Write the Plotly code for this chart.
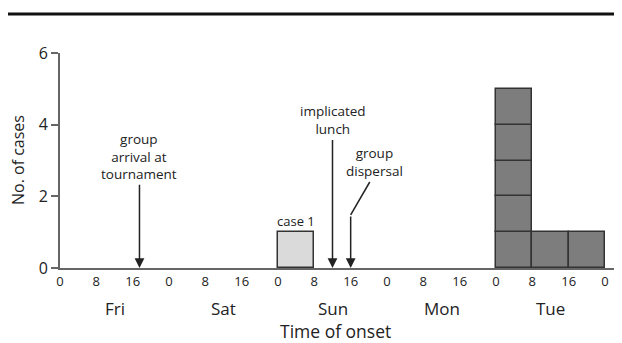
import plotly.graph_objects as go

# Data: cases per 8-hour bin, Fri 00:00 to Wed 00:00 (hours since Fri 00:00)
bin_starts = [0, 8, 16, 24, 32, 40, 48, 56, 64, 72, 80, 88, 96, 104, 112]
case_counts = [0, 0, 0, 0, 0, 0, 1, 0, 0, 0, 0, 0, 5, 1, 1]
case1_bin = 48
tick_hours = list(range(0, 121, 8))
tick_labels = ["0", "8", "16"] * 5 + ["0"]
days = ["Fri", "Sat", "Sun", "Mon", "Tue"]
events = [
    {"hour": 17.5, "text": "group<br>arrival at<br>tournament"},
    {"hour": 60, "text": "implicated<br>lunch"},
    {"hour": 64, "text": "group<br>dispersal"},
]

FONT = "Open Sans"
TEXT = "#222222"
AXIS = "#666666"
PLOT_W = 555.0
PLOT_H = 215.0
# page body adds an 8px offset; positions below are in window pixels
OFF = 8
L, T = 60, 53          # plot-area left / top in window pixels
BOT = T + PLOT_H       # 268

xs, bases, cols = [], [], []
for start, n in zip(bin_starts, case_counts):
    for k in range(n):
        xs.append(start + 4)
        bases.append(k)
        cols.append("#dadada" if start == case1_bin else "#7d7d7d")

fig = go.Figure()
fig.add_trace(go.Bar(
    x=xs, y=[1] * len(xs), base=bases, width=8,
    marker=dict(color=cols, line=dict(color="#333333", width=1.5)),
    hoverinfo="skip", showlegend=False,
))

fig.update_xaxes(
    range=[0, 122.2], showgrid=False, zeroline=False, automargin=False,
    showline=True, linecolor=AXIS, linewidth=2,
    tickvals=tick_hours, ticktext=tick_labels, ticks="",
    tickfont=dict(family=FONT, size=13, color=TEXT),
)
fig.update_yaxes(
    range=[0, 6], showgrid=False, zeroline=False, automargin=False,
    showline=True, linecolor=AXIS, linewidth=2,
    tickvals=[0, 2, 4, 6], ticks="outside", ticklen=7, tickwidth=1.5, tickcolor=AXIS,
    tickfont=dict(family=FONT, size=16, color=TEXT),
)

# axis titles
fig.add_annotation(x=(335 - L) / PLOT_W, xref="paper", y=-(331 - BOT) / PLOT_H, yref="paper",
                   text="Time of onset", showarrow=False, xanchor="center", yanchor="middle",
                   font=dict(family=FONT, size=17.5, color=TEXT))
fig.add_annotation(x=-(L - 18) / PLOT_W, xref="paper", y=(BOT - 160) / PLOT_H, yref="paper",
                   text="No. of cases", showarrow=False, textangle=-90,
                   xanchor="center", yanchor="middle",
                   font=dict(family=FONT, size=16, color=TEXT))

# day labels
for i, d in enumerate(days):
    fig.add_annotation(x=i * 24 + 12, y=0, yref="y", yshift=-40, text=d,
                       showarrow=False, font=dict(family=FONT, size=17, color=TEXT))

# case 1 label
fig.add_annotation(x=case1_bin + 4, y=1, text="case 1", showarrow=False, yshift=11,
                   font=dict(family=FONT, size=13, color=TEXT))

# event arrows
ev = events[0]
fig.add_annotation(x=ev["hour"], y=0, ax=ev["hour"], ay=2.32, axref="x", ayref="y",
                   text=ev["text"], showarrow=True, arrowhead=2, arrowsize=1.3,
                   arrowwidth=1.5, arrowcolor="#222222", yanchor="bottom",
                   font=dict(family=FONT, size=13.5, color=TEXT))
ev = events[1]
fig.add_annotation(x=ev["hour"], y=0, ax=ev["hour"], ay=3.57, axref="x", ayref="y",
                   text=ev["text"], showarrow=True, arrowhead=2, arrowsize=1.3,
                   arrowwidth=1.5, arrowcolor="#222222", yanchor="bottom",
                   font=dict(family=FONT, size=13.5, color=TEXT))
ev = events[2]
fig.add_annotation(x=ev["hour"], y=0, ax=ev["hour"], ay=1.48, axref="x", ayref="y",
                   text="", showarrow=True, arrowhead=2, arrowsize=1.3,
                   arrowwidth=1.5, arrowcolor="#222222")
fig.add_shape(type="line", xref="x", yref="y", x0=ev["hour"], y0=1.48,
              x1=ev["hour"] + 4.2, y1=2.40, line=dict(color="#222222", width=1.5))
fig.add_annotation(x=ev["hour"] + 5.2, y=2.40, text=ev["text"], showarrow=False,
                   yanchor="bottom", font=dict(family=FONT, size=13.5, color=TEXT))

# top rule
fig.add_shape(type="line", xref="paper", yref="paper", x0=-0.2, x1=1.2,
              y0=(BOT - 14) / PLOT_H, y1=(BOT - 14) / PLOT_H,
              line=dict(color="#111111", width=3))

fig.update_layout(
    width=622 - OFF, height=343 - OFF,
    margin=dict(l=L - OFF, r=7, t=T - OFF, b=343 - BOT),
    plot_bgcolor="white", paper_bgcolor="white",
    barmode="overlay", bargap=0,
)
fig.write_html("out.html")
